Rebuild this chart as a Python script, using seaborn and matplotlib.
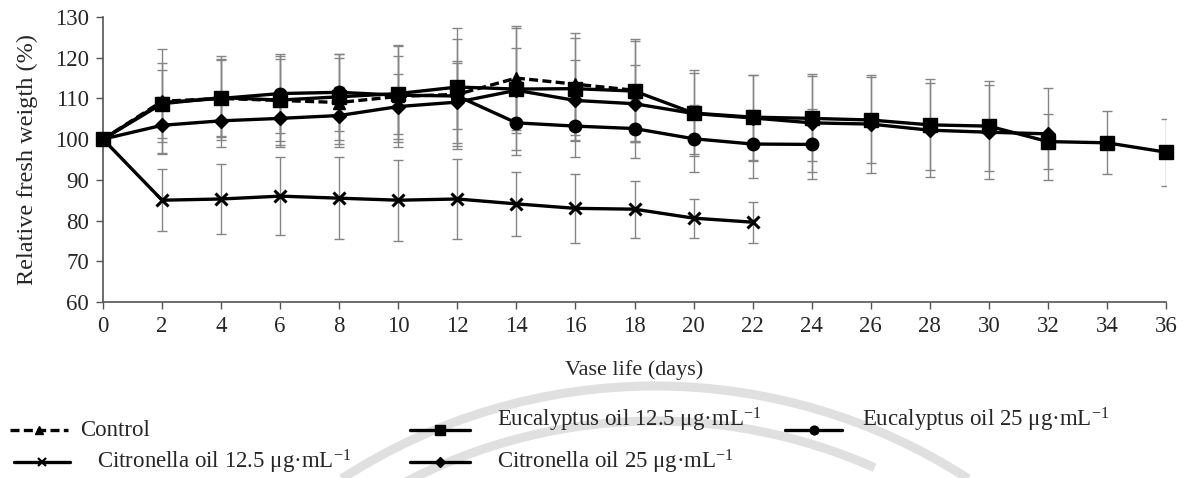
import numpy as np
import pandas as pd
import matplotlib
matplotlib.use("Agg")
import matplotlib.pyplot as plt
import matplotlib.patches as mpatches
import matplotlib.lines as mlines
import matplotlib.transforms as mtransforms
import seaborn as sns

# Vase-life days sampled every two days
days = list(range(0, 37, 2))

# Relative fresh weight (%) and standard deviation per treatment
control = [100, 109.3, 110, 109.5, 109, 110.5, 111, 115, 113.5, 112]
control_sd = [0, 12.8, 10.3, 11, 11, 12.5, 13.5, 12.8, 12.5, 12.5]

euc_125 = [100, 108.7, 110.2, 109.6, 110.4, 111.2, 112.8, 112.3, 112.4, 111.8,
           106.4, 105.4, 105.1, 104.7, 103.5, 103.2, 99.4, 99.1, 96.8]
euc_125_sd = [0, 8.3, 9.5, 10, 10.5, 12, 14.5, 15, 12.5, 12.4,
              10.5, 10.4, 10.5, 10.5, 11.2, 11, 6.7, 7.7, 8.2]

euc_25 = [100, 109, 110, 111.2, 111.5, 110.8, 110.6, 104, 103.2, 102.6, 100.1, 98.8, 98.7]
euc_25_sd = [0, 9.7, 9.5, 9.7, 9.5, 9.5, 8, 8, 7.6, 7.3, 8.2, 8.4, 8.6]

cit_125 = [100, 85, 85.3, 86, 85.5, 85, 85.3, 84.1, 83, 82.8, 80.6, 79.6]
cit_125_sd = [0, 7.6, 8.5, 9.5, 10, 10, 9.8, 7.8, 8.5, 7, 4.8, 5]

cit_25 = [100, 103.4, 104.5, 105.1, 105.8, 108, 109.1, 112, 109.5, 108.7,
          106.3, 105.2, 104, 103.7, 102.2, 101.7, 101.3]
cit_25_sd = [0, 7, 6.4, 7, 7, 8, 10, 10.5, 10, 9.5, 10, 10.6, 12, 12, 11.6, 11.5, 11.3]

labels = {
    "control": "Control",
    "euc_125": "Eucalyptus oil 12.5 μg·mL$^{-1}$",
    "euc_25": "Eucalyptus oil 25 μg·mL$^{-1}$",
    "cit_125": "Citronella oil 12.5 μg·mL$^{-1}$",
    "cit_25": "Citronella oil 25 μg·mL$^{-1}$",
}

dash = (0, (2.7, 1.3))
styles = {
    "control": dict(marker="^", markersize=9, linestyle=dash, markeredgewidth=1.0),
    "euc_125": dict(marker="s", markersize=9.5, linestyle="-", markeredgewidth=1.0),
    "euc_25": dict(marker="o", markersize=9, linestyle="-", markeredgewidth=1.0),
    "cit_125": dict(marker="x", markersize=9, linestyle="-", markeredgewidth=2.2),
    "cit_25": dict(marker="D", markersize=7, linestyle="-", markeredgewidth=1.0),
}

series = [
    ("control", control, control_sd),
    ("euc_125", euc_125, euc_125_sd),
    ("euc_25", euc_25, euc_25_sd),
    ("cit_125", cit_125, cit_125_sd),
    ("cit_25", cit_25, cit_25_sd),
]

sns.set_theme(style="white")
plt.rcParams["font.family"] = ["Liberation Serif", "DejaVu Serif"]
plt.rcParams["mathtext.fontset"] = "custom"
plt.rcParams["mathtext.rm"] = "Liberation Serif"
plt.rcParams["mathtext.it"] = "Liberation Serif:italic"
plt.rcParams["mathtext.bf"] = "Liberation Serif:bold"

text_color = "#262626"
fs = 16.5
W, H = 1191, 478

fig = plt.figure(figsize=(W / 100, H / 100), dpi=100)
ax = fig.add_axes([103 / W, 1 - 302 / H, (1166 - 103) / W, (302 - 17) / H])

# faint ring watermark behind the legend area (figure pixel coordinates)
ident = mtransforms.IdentityTransform()
for r, t1, t2 in [(575, 57, 123), (540, 66, 118)]:
    arc = mpatches.Arc((655, H - 961), 2 * r, 2 * r, theta1=t1, theta2=t2,
                       transform=ident, color="#e0e0e0", linewidth=6.5, zorder=0)
    fig.add_artist(arc)

for key, vals, sd in series:
    x = days[: len(vals)]
    ax.errorbar(x[1:], vals[1:], yerr=sd[1:], fmt="none", ecolor="#858585",
                elinewidth=1.0, capsize=3.8, capthick=1.0, zorder=2)
    sns.lineplot(x=x, y=vals, ax=ax, color="black", linewidth=2.4,
                 markeredgecolor="black", markerfacecolor="black",
                 zorder=3, clip_on=False, **styles[key])

if ax.get_legend() is not None:
    ax.get_legend().remove()

ax.set_xlim(0, 36)
ax.set_ylim(60, 130)
ax.set_xticks(days)
ax.set_yticks(range(60, 131, 10))
ax.tick_params(axis="both", direction="out", length=5, width=1.0, color="#555555",
               labelsize=fs, labelcolor=text_color, pad=5, left=True, bottom=True)
for side in ["top", "right"]:
    ax.spines[side].set_visible(False)
for side in ["left", "bottom"]:
    ax.spines[side].set_color("#555555")
    ax.spines[side].set_linewidth(1.2)

ax.set_xlabel("Vase life (days)", fontsize=fs - 0.5, color=text_color, labelpad=17)
ax.set_ylabel("Relative fresh weigth (%)", fontsize=fs + 1, color=text_color, labelpad=12)

# legend: sample line + marker, then the label (positions in figure pixels from top-left)
legend_items = [
    ("control", 10, 68, 430, 80, 430),
    ("euc_125", 410, 470, 430, 497, 421),
    ("euc_25", 785, 842, 430, 862, 421),
    ("cit_125", 14, 70, 462, 97, 462),
    ("cit_25", 410, 470, 462, 497, 462),
]
for key, x0, x1, yl, xt, yt in legend_items:
    st = dict(styles[key])
    st["markersize"] = st["markersize"] * 0.7
    if key == "cit_125":
        st["markeredgewidth"] = 1.6
    ln = mlines.Line2D([x0, (x0 + x1) / 2, x1], [H - yl] * 3, transform=ident,
                       color="black", linewidth=2.4, markevery=[1],
                       markerfacecolor="black", markeredgecolor="black", **st)
    fig.add_artist(ln)
    fig.text(xt / W, 1 - (yt + 6) / H, labels[key], fontsize=fs, color=text_color,
             ha="left", va="baseline")

fig.savefig("out.png", dpi=100)
